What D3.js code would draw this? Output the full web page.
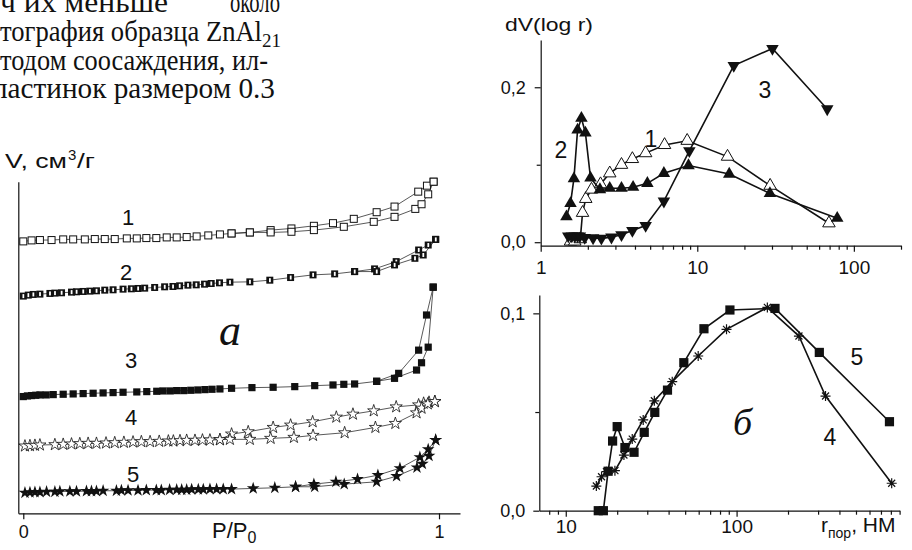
<!DOCTYPE html>
<html>
<head>
<meta charset="utf-8">
<script src="https://cdn.jsdelivr.net/npm/d3@7"></script>
<style>
  body { margin: 0; background: #fff; }
  svg { display: block; }
  text { font-family: "Liberation Sans", Arial, sans-serif; fill: #111; }
  .serif text, text.serif { font-family: "Liberation Serif", "Times New Roman", serif; }
  .axis path, .axis line { stroke: #111; stroke-width: 1.2; }
</style>
</head>
<body>
<svg id="fig" width="912" height="550"></svg>
<script>
// ---------- isotherms (a): P/P0 vs V, curves shifted, arbitrary units
const iso1AdsP = [0, .020, .040, .068, .096, .120, .148, .172, .196, .220, .249, .273, .296, .320, .345, .369, .393, .417, .445, .473, .501, .545, .595, .645, .699, .771, .843, .893, .943, .958, .974, .987];
const iso1AdsV = [82.0, 82.3, 82.4, 82.4, 82.6, 82.6, 82.6, 82.7, 82.7, 82.7, 82.9, 82.9, 83.0, 83.0, 83.2, 83.2, 83.3, 83.5, 83.8, 84.1, 84.4, 84.7, 84.7, 84.9, 85.4, 86.4, 87.9, 89.4, 91.8, 93.2, 96.2, 100];
const iso1DesP = [.987, .971, .950, .893, .850, .795, .745, .699, .645, .595, .545, .501];
const iso1DesV = [100, 98.8, 97.0, 92.5, 90.8, 88.8, 87.5, 86.7, 85.9, 85.4, 84.7, 84.4];

const iso2AdsP = [0, .012, .024, .040, .064, .076, .092, .116, .128, .144, .160, .176, .196, .216, .240, .260, .276, .292, .316, .340, .360, .376, .396, .416, .436, .452, .472, .497, .545, .593, .643, .697, .749, .797, .850, .893, .942, .962, .992];
const iso2AdsV = [65.5, 65.8, 66.0, 66.1, 66.3, 66.4, 66.5, 66.7, 66.8, 66.9, 67.0, 67.1, 67.3, 67.4, 67.6, 67.7, 67.8, 67.9, 68.1, 68.3, 68.4, 68.6, 68.8, 68.9, 69.1, 69.3, 69.5, 69.7, 69.8, 70.3, 71.1, 71.9, 72.2, 72.9, 72.9, 74.9, 76.9, 77.9, 82.6];
const iso2DesP = [.992, .974, .951, .897, .845, .797];
const iso2DesV = [82.6, 80.9, 79.4, 75.9, 73.7, 72.9];

const iso3AdsP = [0, .010, .020, .030, .040, .055, .072, .096, .120, .144, .168, .192, .216, .240, .273, .297, .321, .336, .353, .369, .386, .403, .420, .437, .454, .473, .501, .550, .601, .653, .701, .745, .771, .797, .850, .893, .946, .958, .974, .986];
const iso3AdsV = [35.2, 35.4, 35.5, 35.6, 35.7, 35.7, 35.8, 35.9, 36.0, 36.1, 36.2, 36.3, 36.4, 36.5, 36.6, 36.7, 36.8, 36.9, 36.9, 37.0, 37.0, 37.1, 37.2, 37.3, 37.4, 37.5, 37.7, 37.9, 38.0, 38.2, 38.5, 38.7, 38.9, 39.0, 39.8, 40.7, 43.2, 45.4, 50.1, 68.2];
const iso3DesP = [.986, .970, .951, .903, .850];
const iso3DesV = [68.2, 59.8, 49.2, 42.2, 39.8];

const iso4AdsP = [.004, .016, .028, .040, .076, .096, .116, .136, .156, .176, .199, .220, .242, .264, .284, .305, .327, .349, .361, .377, .393, .413, .431, .449, .473, .497, .545, .595, .651, .697, .773, .847, .895, .946, .958, .973, .990];
const iso4AdsV = [20.3, 20.4, 20.5, 20.6, 20.7, 20.8, 20.9, 21.0, 21.1, 21.1, 21.2, 21.3, 21.4, 21.5, 21.6, 21.6, 21.7, 21.8, 21.8, 21.9, 22.0, 22.0, 22.1, 22.1, 22.2, 22.3, 22.3, 22.6, 22.9, 23.5, 24.3, 25.9, 27.1, 30.3, 31.7, 33.0, 33.7];
const iso4DesP = [.990, .976, .963, .951, .897, .843, .793, .753, .696, .643, .601, .541, .501, .473];
const iso4DesV = [33.7, 33.5, 33.2, 32.7, 32.1, 30.9, 29.9, 29.0, 27.6, 26.6, 25.9, 24.6, 23.9, 22.2];

const iso5AdsP = [.004, .016, .028, .040, .056, .076, .088, .112, .128, .152, .164, .176, .192, .224, .236, .252, .276, .296, .320, .332, .352, .369, .381, .393, .405, .421, .433, .449, .465, .481, .501, .553, .605, .655, .701, .772, .850, .898, .947, .960, .976, .992];
const iso5AdsV = [6.2, 6.3, 6.4, 6.4, 6.5, 6.5, 6.6, 6.6, 6.6, 6.7, 6.7, 6.7, 6.8, 6.8, 6.9, 6.9, 6.9, 7.0, 7.0, 7.0, 7.1, 7.1, 7.1, 7.1, 7.2, 7.2, 7.2, 7.3, 7.3, 7.3, 7.3, 7.5, 7.7, 8.0, 8.0, 8.8, 9.5, 11.2, 13.8, 14.9, 17.3, 22.1];
const iso5DesP = [.992, .974, .954, .906, .853, .804, .752, .699, .655];
const iso5DesV = [22.1, 19.3, 16.9, 13.6, 11.5, 10.3, 9.5, 8.8, 8.0];

// ---------- pore size distributions, top: samples 1-3
const psd1R = [1.55, 1.65, 1.79, 1.85, 1.94, 2.11, 2.41, 2.76, 3.28, 3.85, 4.68, 6.18, 8.62, 15.6, 29.2, 69.3];
const psd1V = [0.001, 0.001, 0.004, 0.038, 0.056, 0.068, 0.075, 0.089, 0.100, 0.1075, 0.115, 0.1256, 0.131, 0.1105, 0.073, 0.0245];
const psd2R = [1.46, 1.55, 1.63, 1.72, 1.82, 1.93, 2.08, 2.39, 2.76, 3.28, 3.89, 4.8, 6.12, 8.79, 16.0, 29.1, 78.3];
const psd2V = [0.033, 0.050, 0.082, 0.145, 0.160, 0.141, 0.083, 0.068, 0.0697, 0.0697, 0.071, 0.076, 0.089, 0.099, 0.088, 0.063, 0.031];
const psd3R = [1.5, 1.58, 1.65, 1.72, 1.78, 1.91, 2.16, 2.44, 2.83, 3.28, 3.85, 4.68, 6.12, 8.9, 17.1, 30.2, 67.6];
const psd3V = [0.008, 0.008, 0.008, 0.008, 0.008, 0.006, 0.0055, 0.005, 0.0065, 0.0095, 0.015, 0.0215, 0.053, 0.118, 0.228, 0.250, 0.172];

// ---------- pore size distributions, bottom: samples 4-5
const psd4R = [15.1, 16.2, 17.3, 19.4, 21.9, 24.5, 28.4, 33.0, 42.0, 59.6, 87.3, 151.4, 231.7, 331.6, 809];
const psd4V = [0.0125, 0.0172, 0.0198, 0.0203, 0.0282, 0.0363, 0.046, 0.0557, 0.0654, 0.0784, 0.0919, 0.103, 0.0885, 0.0581, 0.0139];
const psd5R = [15.5, 16.6, 17.7, 18.8, 20.0, 22.2, 25.1, 28.8, 33.2, 39.4, 49.1, 64.4, 91.4, 167.8, 305, 785];
const psd5V = [0, 0, 0.020, 0.0353, 0.0426, 0.032, 0.0296, 0.0397, 0.0498, 0.0611, 0.075, 0.0922, 0.1017, 0.1025, 0.0802, 0.0451];

const topMajor = [1, 10, 100];
const topMinor = [2, 3, 4, 5, 6, 7, 8, 9, 20, 30, 40, 50, 60, 70, 80, 90, 200];
const botMajor = [10, 100];
const botMinor = [8, 9, 20, 30, 40, 50, 60, 70, 80, 90, 200, 300, 400, 500, 600, 700, 800, 900];

const svg = d3.select("#fig");
const zip = (xs, ys) => xs.map((x, i) => [x, ys[i]]);
const comma = d => d3.format(".1f")(d).replace(".", ",");

// ---------- paragraph fragment above the figure
const para = svg.append("g").attr("class", "serif").style("font-size", "29px");
const line = (x, y, w, s) => para.append("text").attr("x", x).attr("y", y)
  .attr("textLength", w).attr("lengthAdjust", "spacingAndGlyphs").text(s);
line(0, 12, 168, "ч их меньше");
line(230, 12, 50, "около");
line(0, 41, 262, "тография образца ZnAl");
para.append("text").attr("x", 262).attr("y", 47).style("font-size", "19px").text("21");
line(0, 70, 268, "тодом соосаждения, ил-");
line(-7, 98, 282, "ластинок размером 0.3");

// ---------- markers
const marker = (g, kind, x, y) => {
  const m = g.append("g").attr("transform", `translate(${x},${y})`);
  if (kind === "sqOpen") m.append("rect").attr("x", -3.5).attr("y", -3.5).attr("width", 7).attr("height", 7).attr("fill", "#fff").attr("stroke", "#111").attr("stroke-width", 1);
  if (kind === "sqHalf") {
    m.append("rect").attr("x", -3.5).attr("y", -3.5).attr("width", 7).attr("height", 7).attr("fill", "#111");
    m.append("rect").attr("x", -0.8).attr("y", -2).attr("width", 1.8).attr("height", 4).attr("fill", "#fff");
  }
  if (kind === "sqFill") m.append("rect").attr("x", -3.6).attr("y", -3.6).attr("width", 7.2).attr("height", 7.2).attr("fill", "#111");
  if (kind === "sqBig") m.append("rect").attr("x", -4.6).attr("y", -4.6).attr("width", 9.2).attr("height", 9.2).attr("fill", "#111");
  if (kind === "starOpen") m.append("path").attr("d", d3.symbol().type(d3.symbolStar).size(46)()).attr("fill", "#fff").attr("stroke", "#111").attr("stroke-width", 0.8);
  if (kind === "starFill") m.append("path").attr("d", d3.symbol().type(d3.symbolStar).size(50)()).attr("fill", "#111");
  if (kind === "triUp") m.append("path").attr("d", d3.symbol().type(d3.symbolTriangle).size(68)()).attr("fill", "#111");
  if (kind === "triOpen") m.append("path").attr("d", d3.symbol().type(d3.symbolTriangle).size(68)()).attr("fill", "#fff").attr("stroke", "#111").attr("stroke-width", 1);
  if (kind === "triDown") m.append("path").attr("d", d3.symbol().type(d3.symbolTriangle).size(68)()).attr("transform", "rotate(180)").attr("fill", "#111");
  if (kind === "aster") m.append("path").attr("d", "M-5,0H5M0,-5V5M-3.5,-3.5L3.5,3.5M-3.5,3.5L3.5,-3.5").attr("stroke", "#111").attr("stroke-width", 1.2).attr("fill", "none");
};

const series = (g, pts, x, y, kind, width) => {
  g.append("path").datum(pts)
    .attr("d", d3.line().x(d => x(d[0])).y(d => y(d[1])))
    .attr("fill", "none").attr("stroke", "#111").attr("stroke-width", width);
  pts.forEach(d => marker(g, kind, x(d[0]), y(d[1])));
};

// ---------- panel a (isotherms)
const isoX = d3.scaleLinear().domain([-0.012, 1.0505]).range([18.3, 460]);
const isoY = d3.scaleLinear().domain([0, 100]).range([513.3, 181.7]);
const gIso = svg.append("g");

const isotherms = [
  [iso1AdsP, iso1AdsV, iso1DesP, iso1DesV, "sqOpen"],
  [iso2AdsP, iso2AdsV, iso2DesP, iso2DesV, "sqHalf"],
  [iso3AdsP, iso3AdsV, iso3DesP, iso3DesV, "sqFill"],
  [iso4AdsP, iso4AdsV, iso4DesP, iso4DesV, "starOpen"],
  [iso5AdsP, iso5AdsV, iso5DesP, iso5DesV, "starFill"]
];
isotherms.forEach(c => {
  series(gIso, zip(c[2], c[3]), isoX, isoY, c[4], 0.7);
  series(gIso, zip(c[0], c[1]), isoX, isoY, c[4], 0.7);
});

gIso.append("g").attr("class", "axis").attr("transform", "translate(0,513.3)")
  .call(d3.axisBottom(isoX).tickValues([0, 1]).tickFormat(d3.format("d")).tickSize(6).tickSizeOuter(0).tickPadding(6))
  .call(g => g.selectAll("text").style("font-size", "18px"));
gIso.append("g").attr("class", "axis").attr("transform", "translate(18.3,0)")
  .call(d3.axisLeft(isoY).tickValues([]).tickSizeOuter(0));

gIso.append("text").attr("x", 5).attr("y", 168).attr("textLength", 62).attr("lengthAdjust", "spacingAndGlyphs")
  .style("font-size", "20px").text("V, см");
gIso.append("text").attr("x", 68).attr("y", 160).style("font-size", "15px").text("3");
gIso.append("text").attr("x", 77).attr("y", 168).attr("textLength", 18).attr("lengthAdjust", "spacingAndGlyphs")
  .style("font-size", "20px").text("/г");

const pLab = gIso.append("text").attr("x", 212).attr("y", 538).style("font-size", "22px");
pLab.append("tspan").text("P/P");
pLab.append("tspan").attr("dy", 5).style("font-size", "16px").text("0");

[["1", 128, 225], ["2", 126, 280], ["3", 131, 368], ["4", 131, 425], ["5", 133, 482]].forEach(l =>
  gIso.append("text").attr("x", l[1]).attr("y", l[2]).attr("text-anchor", "middle").style("font-size", "22px").text(l[0]));
gIso.append("text").attr("class", "serif").attr("x", 219).attr("y", 345)
  .style("font-size", "44px").style("font-style", "italic").text("a");

// ---------- top right panel
const topX = d3.scaleLog().domain([1, 200]).range([540.7, 901]);
const topY = d3.scaleLinear().domain([-0.0045, 0.261]).range([245.7, 40]);
const gTop = svg.append("g");

series(gTop, zip(psd1R, psd1V), topX, topY, "triOpen", 1.6);
series(gTop, zip(psd3R, psd3V), topX, topY, "triDown", 1.6);
series(gTop, zip(psd2R, psd2V), topX, topY, "triUp", 1.6);

gTop.append("g").attr("class", "axis").attr("transform", "translate(0,245.7)")
  .call(d3.axisBottom(topX).tickValues(topMajor).tickFormat(d3.format("d")).tickSize(6).tickSizeOuter(0).tickPadding(9))
  .call(g => g.selectAll("text").style("font-size", "19px"));
gTop.append("g").attr("class", "axis").attr("transform", "translate(0,245.7)")
  .call(d3.axisBottom(topX).tickValues(topMinor).tickFormat("").tickSize(4).tickSizeOuter(0))
  .call(g => g.select(".domain").remove());
gTop.append("g").attr("class", "axis").attr("transform", "translate(540.7,0)")
  .call(d3.axisLeft(topY).tickValues([0, 0.2]).tickFormat(comma).tickSize(6).tickSizeOuter(0).tickPadding(9))
  .call(g => g.selectAll("text").style("font-size", "18px"));
gTop.append("g").attr("class", "axis").attr("transform", "translate(540.7,0)")
  .call(d3.axisLeft(topY).tickValues([0.1]).tickFormat("").tickSize(4))
  .call(g => g.select(".domain").remove());

gTop.append("text").attr("x", 505).attr("y", 31).attr("textLength", 88).attr("lengthAdjust", "spacingAndGlyphs")
  .style("font-size", "19px").text("dV(log r)");
[["1", 651, 147], ["2", 561, 158], ["3", 765, 98]].forEach(l =>
  gTop.append("text").attr("x", l[1]).attr("y", l[2]).attr("text-anchor", "middle").style("font-size", "23px").text(l[0]));

// ---------- bottom right panel
const botX = d3.scaleLog().domain([7, 900]).range([539.3, 899.6]);
const botY = d3.scaleLinear().domain([0, 0.1093]).range([510.7, 295]);
const gBot = svg.append("g");

series(gBot, zip(psd5R, psd5V), botX, botY, "sqBig", 1.6);
series(gBot, zip(psd4R, psd4V), botX, botY, "aster", 1.6);

gBot.append("g").attr("class", "axis").attr("transform", "translate(0,510.7)")
  .call(d3.axisBottom(botX).tickValues(botMajor).tickFormat(d3.format("d")).tickSize(6).tickSizeOuter(0).tickPadding(3))
  .call(g => g.selectAll("text").style("font-size", "19px"));
gBot.append("g").attr("class", "axis").attr("transform", "translate(0,510.7)")
  .call(d3.axisBottom(botX).tickValues(botMinor).tickFormat("").tickSize(4).tickSizeOuter(0))
  .call(g => g.select(".domain").remove());
gBot.append("g").attr("class", "axis").attr("transform", "translate(539.3,0)")
  .call(d3.axisLeft(botY).tickValues([0, 0.1]).tickFormat(comma).tickSize(6).tickSizeOuter(0).tickPadding(8))
  .call(g => g.selectAll("text").style("font-size", "18px"));
gBot.append("g").attr("class", "axis").attr("transform", "translate(539.3,0)")
  .call(d3.axisLeft(botY).tickValues([0.05]).tickFormat("").tickSize(4))
  .call(g => g.select(".domain").remove());

const rLab = gBot.append("text").attr("x", 821).attr("y", 532).style("font-size", "21px");
rLab.append("tspan").text("r");
rLab.append("tspan").attr("dy", 6).style("font-size", "14px").text("пор");
rLab.append("tspan").attr("dy", -6).text(", НМ");

[["5", 857, 365], ["4", 830, 445]].forEach(l =>
  gBot.append("text").attr("x", l[1]).attr("y", l[2]).attr("text-anchor", "middle").style("font-size", "23px").text(l[0]));
gBot.append("text").attr("class", "serif").attr("x", 733).attr("y", 435)
  .style("font-size", "38px").style("font-style", "italic").text("б");
</script>
</body>
</html>
